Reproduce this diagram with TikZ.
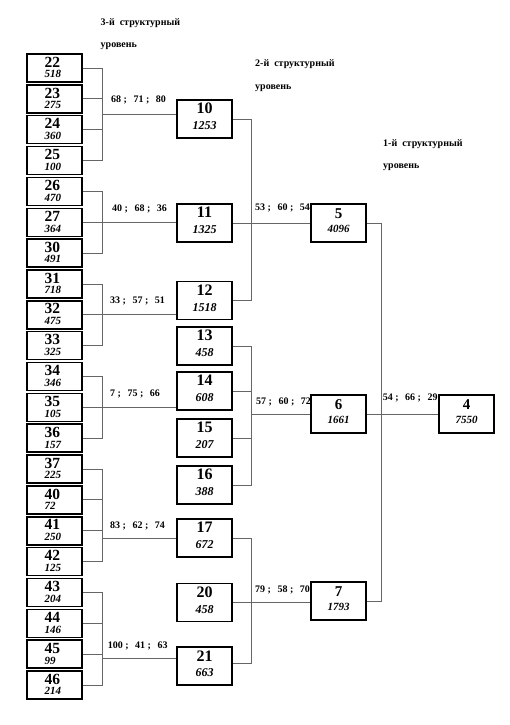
\documentclass[tikz,border=0pt]{standalone}
\usepackage{fontspec}
\setmainfont{Liberation Serif}
\usetikzlibrary{calc}
\newcommand\trip[3]{#1 ;\hspace{6.5pt}#2 ;\hspace{6.5pt}#3}
\tikzset{
  box/.style={draw=black, line width=1.5pt, inner sep=0pt, fill=white},
  lthree/.style={box, minimum width=55pt, minimum height=28pt},
  ltwo/.style={box, minimum width=55pt, minimum height=38pt},
  conn/.style={draw=black!60, line width=0.9pt},
  numbig/.style={inner sep=0pt, font=\fontsize{16}{16}\selectfont\bfseries},
  numthree/.style={inner sep=0pt, font=\fontsize{15.5}{15.5}\selectfont\bfseries},
  valsmall/.style={inner sep=0pt, font=\fontsize{11}{11}\selectfont\bfseries\itshape},
  valmid/.style={inner sep=0pt, font=\fontsize{12}{12}\selectfont\bfseries\itshape},
  numone/.style={inner sep=0pt, font=\fontsize{15}{15}\selectfont\bfseries},
  valone/.style={inner sep=0pt, font=\fontsize{11}{11}\selectfont\bfseries\itshape},
  flow/.style={inner sep=0pt, anchor=base west, font=\fontsize{10}{10}\selectfont\bfseries},
  head/.style={inner sep=0pt, anchor=base west, font=\fontsize{10}{10}\selectfont\bfseries},
}
\begin{document}
\begin{tikzpicture}[x=1pt,y=-1pt]
\useasboundingbox (0,0) rectangle (510,725);
\fill[white] (0,0) rectangle (510,725);

% headers
\node[head] (h3a) at (100.5,25.5) {3-й\ \ структурный};
\node[head] (h3b) at (100.5,47.5) {уровень};
\node[head] (h2a) at (255,66.5) {2-й\ \ структурный};
\node[head] (h2b) at (255,89) {уровень};
\node[head] (h1a) at (383,146) {1-й\ \ структурный};
\node[head] (h1b) at (383,168.5) {уровень};

% level 3 boxes
\foreach \n/\v [count=\i from 0] in {22/518,23/275,24/360,25/100,26/470,27/364,30/491,31/718,32/475,33/325,34/346,35/105,36/157,37/225,40/72,41/250,42/125,43/204,44/146,45/99,46/214} {
  \node[lthree] (b\n) at (54.5,68+\i*30.85) {};
  \node[numthree, anchor=west] (n\n) at ($(b\n.center)+(-10.2,-5.9)$) {\n};
  \node[valsmall, anchor=west] (v\n) at ($(b\n.center)+(-10.2,6.3)$) {\v};
}

% level 2 boxes
\foreach \n/\v/\y in {10/1253/119,11/1325/223,12/1518/300.5,13/458/346,14/608/391,15/207/438,16/388/485,17/672/538,20/458/602.5,21/663/666} {
  \node[ltwo] (b\n) at (204.5,\y) {};
  \node[numbig] (n\n) at ($(b\n.center)+(0,-10.3)$) {\n};
  \node[valmid] (v\n) at ($(b\n.center)+(0,7)$) {\v};
}

% level 1 boxes
\foreach \n/\v/\x/\y in {5/4096/338.5/223,6/1661/338.5/414,7/1793/338.5/601,4/7550/466.5/414} {
  \node[ltwo] (b\n) at (\x,\y) {};
  \node[numone] (n\n) at ($(b\n.center)+(0,-9.5)$) {\n};
  \node[valone] (v\n) at ($(b\n.center)+(0,6)$) {\v};
}

% bus x positions
\coordinate (bx3) at (102,0);
\coordinate (bx2) at (251.5,0);
\coordinate (bx1) at (381,0);

% group 22-25 -> 10
\draw[conn] (b22.east) -- (b22.east -| bx3) -- (b25.east -| bx3) -- (b25.east);
\draw[conn] (b23.east) -- (b23.east -| bx3);
\draw[conn] (b24.east) -- (b24.east -| bx3);
\coordinate (ja) at ($(b22.east -| bx3)!0.5!(b25.east -| bx3)$);
\draw[conn] (ja) -- (ja -| b10.west);

% group 26,27,30 -> 11
\draw[conn] (b26.east) -- (b26.east -| bx3) -- (b30.east -| bx3) -- (b30.east);
\draw[conn] (b27.east) -- (b27.east -| b11.west);

% group 31-33 -> 12
\draw[conn] (b31.east) -- (b31.east -| bx3) -- (b33.east -| bx3) -- (b33.east);
\draw[conn] (b32.east) -- (b32.east -| b12.west);

% group 34-36 -> 14
\draw[conn] (b34.east) -- (b34.east -| bx3) -- (b36.east -| bx3) -- (b36.east);
\draw[conn] (b35.east) -- (b35.east -| b14.west);

% group 37-42 -> 17
\draw[conn] (b37.east) -- (b37.east -| bx3) -- (b42.east -| bx3) -- (b42.east);
\draw[conn] (b40.east) -- (b40.east -| bx3);
\draw[conn] (b41.east) -- (b41.east -| bx3);
\draw[conn] (b17.west -| bx3) -- (b17.west);

% group 43-46 -> 21
\draw[conn] (b43.east) -- (b43.east -| bx3) -- (b46.east -| bx3) -- (b46.east);
\draw[conn] (b44.east) -- (b44.east -| bx3);
\draw[conn] (b45.east) -- (b45.east -| bx3);
\coordinate (jf) at ($(b21.west)+(0,-8)$);
\draw[conn] (jf -| bx3) -- (jf);

% level 2 -> level 1
\draw[conn] (b10.east) -- (b10.east -| bx2) -- (b12.east -| bx2) -- (b12.east);
\draw[conn] (b11.east) -- (b11.east -| b5.west);

\draw[conn] (b13.east) -- (b13.east -| bx2) -- (b16.east -| bx2) -- (b16.east);
\draw[conn] (b14.east) -- (b14.east -| bx2);
\draw[conn] (b15.east) -- (b15.east -| bx2);
\draw[conn] (b6.west -| bx2) -- (b6.west);

\coordinate (k21) at ($(b21.east)+(0,-3)$);
\draw[conn] (b17.east) -- (b17.east -| bx2) -- (k21 -| bx2) -- (k21);
\draw[conn] (b20.east) -- (b20.east -| b7.west);

% level 1 -> top
\draw[conn] (b5.east) -- (b5.east -| bx1) -- (b7.east -| bx1) -- (b7.east);
\draw[conn] (b6.east) -- (b6.east -| b4.west);

% flow labels
\node[flow] (f10) at (111,102.3) {\trip{68}{71}{80}};
\node[flow] (f11) at (112,211) {\trip{40}{68}{36}};
\node[flow] (f12) at (110,303.3) {\trip{33}{57}{51}};
\node[flow] (f14) at (110,396) {\trip{7}{75}{66}};
\node[flow] (f17) at (110,528.3) {\trip{83}{62}{74}};
\node[flow] (f21) at (107.7,648.3) {\trip{100}{41}{63}};
\node[flow] (f5) at (255,210.5) {\trip{53}{60}{54}};
\node[flow] (f6) at (256,404) {\trip{57}{60}{72}};
\node[flow] (f4) at (382.7,400.7) {\trip{54}{66}{29}};
\node[flow] (f7) at (255,592) {\trip{79}{58}{70}};
\end{tikzpicture}
\end{document}
